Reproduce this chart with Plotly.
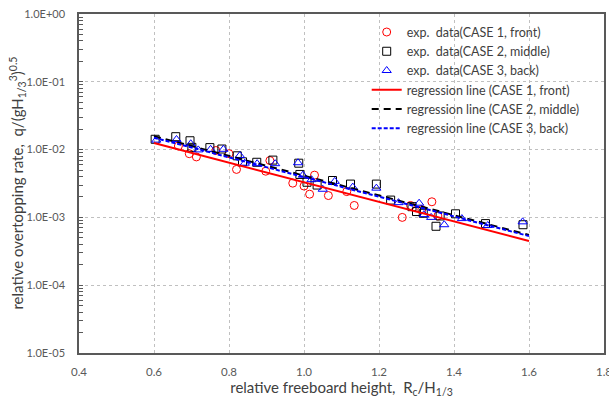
import plotly.graph_objects as go

# CASE 1 (front) experimental data
case1_x = [0.665, 0.694, 0.713, 0.765, 0.800, 0.820, 0.898, 0.909, 0.970, 1.000,
           1.015, 1.028, 1.065, 1.114, 1.134, 1.262, 1.284, 1.314, 1.341, 1.357]
case1_y = [0.0113, 0.0087, 0.0078, 0.0097, 0.0087, 0.0051, 0.0048, 0.0069, 0.0032, 0.0029,
           0.0022, 0.0042, 0.0021, 0.0024, 0.0015, 0.0010, 0.0015, 0.0013, 0.0017, 0.00105]

# CASE 2 (middle) experimental data
case2_x = [0.603, 0.658, 0.696, 0.701, 0.749, 0.781, 0.822, 0.836, 0.874, 0.917,
           0.986, 0.989, 1.008, 1.035, 1.076, 1.124, 1.193, 1.231, 1.288, 1.300,
           1.318, 1.352, 1.363, 1.404, 1.484, 1.584]
case2_y = [0.0142, 0.0155, 0.0135, 0.0108, 0.0107, 0.0102, 0.0081, 0.0066, 0.0065, 0.0070,
           0.0063, 0.0043, 0.0033, 0.0030, 0.0035, 0.0031, 0.0031, 0.0018, 0.00144, 0.00122,
           0.00115, 0.00074, 0.00105, 0.00113, 0.00081, 0.00078]

# CASE 3 (back) experimental data
case3_x = [0.606, 0.660, 0.698, 0.718, 0.751, 0.785, 0.829, 0.842, 0.875, 0.923,
           0.984, 0.997, 1.020, 1.050, 1.082, 1.130, 1.193, 1.252, 1.307, 1.320,
           1.339, 1.374, 1.421, 1.490, 1.583]
case3_y = [0.0138, 0.0141, 0.0122, 0.0099, 0.0101, 0.0101, 0.0082, 0.0063, 0.0062, 0.0062,
           0.0064, 0.0042, 0.0036, 0.0026, 0.0034, 0.0028, 0.0027, 0.00165, 0.00162, 0.0011,
           0.0010, 0.00078, 0.00096, 0.00076, 0.00086]

# regression line end points
reg_x = [0.6, 1.6]
reg1_y = [0.0125, 0.000448]
reg2_y = [0.0158, 0.00055]
reg3_y = [0.0150, 0.00053]

y_tickvals = [1e-5, 1e-4, 1e-3, 1e-2, 1e-1, 1e0]
y_ticktext = ["1.0E-05", "1.0E-04", "1.0E-03", "1.0E-02", "1.0E-01", "1.0E+00"]
y_minor = [m * 10.0 ** e for e in range(-5, 0) for m in range(2, 10)]
y_title = "relative overtopping rate,  q/(gH<sub>1/3</sub><sup>3</sup>)<sup>0.5</sup>"
x_title = "relative freeboard height,  R<sub>c</sub>/H<sub>1/3</sub>"

FONT = "Lato"

fig = go.Figure()
fig.add_trace(go.Scatter(x=case1_x, y=case1_y, mode="markers", name="exp.  data(CASE 1, front)",
                         marker=dict(symbol="circle-open", color="#ff0000", size=8, line=dict(width=1))))
fig.add_trace(go.Scatter(x=case2_x, y=case2_y, mode="markers", name="exp.  data(CASE 2, middle)",
                         marker=dict(symbol="square-open", color="#000000", size=8, line=dict(width=1))))
fig.add_trace(go.Scatter(x=case3_x, y=case3_y, mode="markers", name="exp.  data(CASE 3, back)",
                         marker=dict(symbol="triangle-up-open", color="#0000ff", size=8, line=dict(width=1))))
fig.add_trace(go.Scatter(x=reg_x, y=reg1_y, mode="lines", name="regression line (CASE 1, front)",
                         line=dict(color="#ff0000", width=2)))
fig.add_trace(go.Scatter(x=reg_x, y=reg2_y, mode="lines", name="regression line (CASE 2, middle)",
                         line=dict(color="#000000", width=2, dash="7px,5px")))
fig.add_trace(go.Scatter(x=reg_x, y=reg3_y, mode="lines", name="regression line (CASE 3, back)",
                         line=dict(color="#0000ff", width=2, dash="4px,2px")))

fig.update_layout(
    width=609, height=400,
    margin=dict(l=79, r=5, t=14, b=47, autoexpand=False),
    paper_bgcolor="white", plot_bgcolor="white",
    font=dict(family=FONT, size=12, color="#404040"),
    showlegend=True,
    legend=dict(x=0.548, y=0.99, xanchor="left", yanchor="top", bgcolor="rgba(255,255,255,0)",
                font=dict(family=FONT, size=12.5, color="#404040"), tracegroupgap=0),
    xaxis=dict(range=[0.4, 1.8], dtick=0.2, tick0=0.4, tickformat=".1f", automargin=True,
               showline=True, linecolor="#595959", linewidth=1.5, mirror=True,
               showgrid=True, gridcolor="#c0c0c0", griddash="3px,3px", gridwidth=1,
               ticks="", ticklabelstandoff=7, zeroline=False, ticklabeloverflow="allow",
               tickfont=dict(family=FONT, size=11.5, color="#595959"),
               title=dict(text=x_title, font=dict(family=FONT, size=15, color="#404040"), standoff=4)),
    yaxis=dict(type="log", range=[-5, 0], tickvals=y_tickvals, ticktext=y_ticktext, automargin=True,
               showline=True, linecolor="#595959", linewidth=1.5, mirror=True,
               showgrid=True, gridcolor="#c0c0c0", griddash="3px,3px", gridwidth=1,
               ticks="inside", ticklen=4, tickcolor="#595959", ticklabelstandoff=10,
               ticklabeloverflow="allow",
               minor=dict(tickvals=y_minor, ticks="inside", ticklen=4, tickcolor="#595959", showgrid=False),
               zeroline=False,
               tickfont=dict(family=FONT, size=11, color="#595959")),
    annotations=[dict(text=y_title, textangle=-90, xref="paper", yref="paper",
                      x=-0.118, y=0.5, xanchor="center", yanchor="middle", showarrow=False,
                      font=dict(family=FONT, size=15, color="#404040"))],
)

fig.write_html("out.html", config={"displayModeBar": False},
               post_script="document.body.style.margin='0px';")
